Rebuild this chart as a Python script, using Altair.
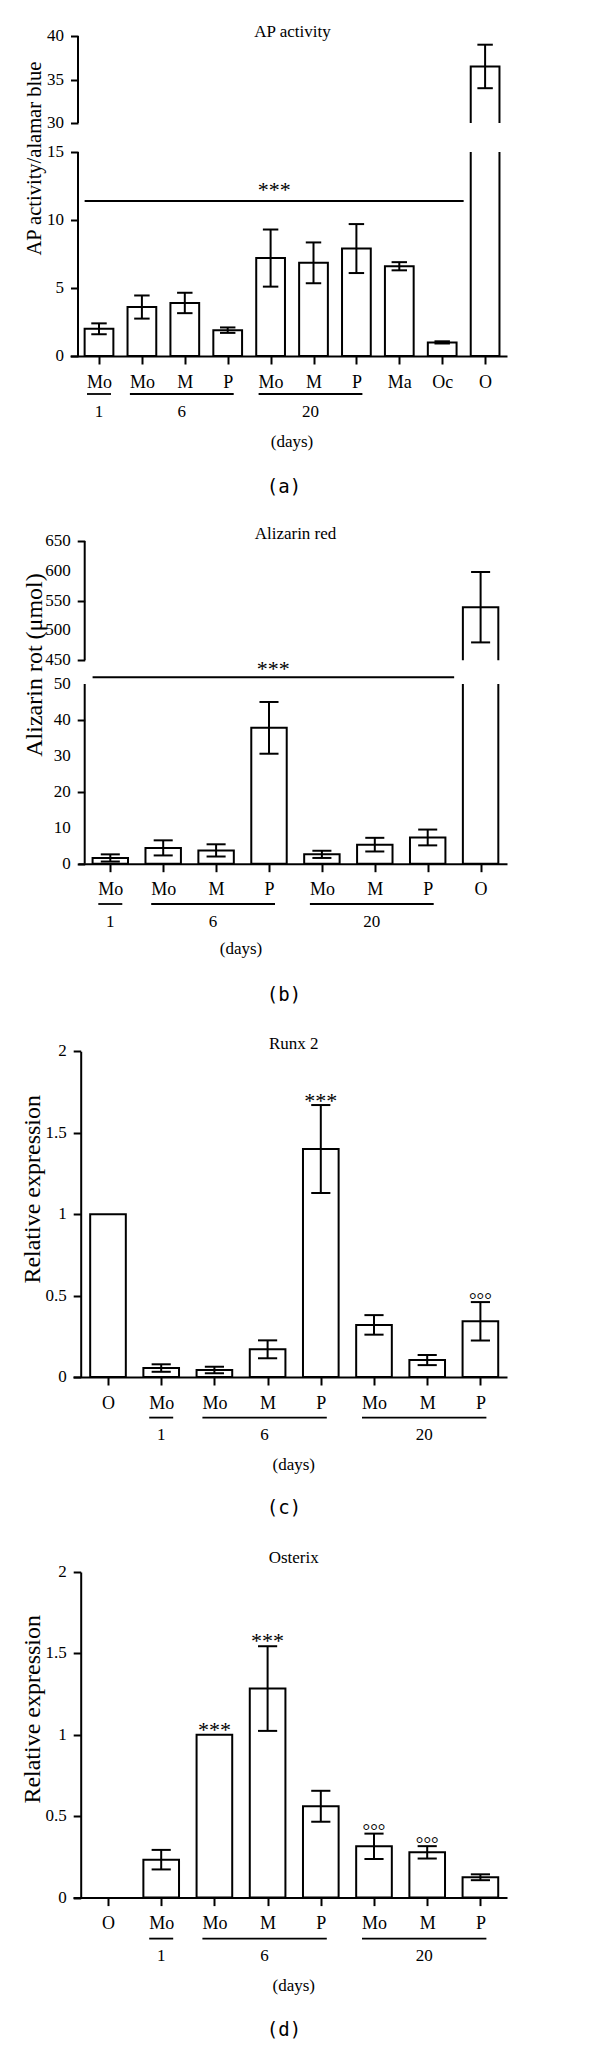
import json
import altair as alt
import pandas as pd

# ---------------- data ----------------
a_names = ["Mo", "Mo", "M", "P", "Mo", "M", "P", "Ma", "Oc", "O"]
a_means = [2.0, 3.6, 3.9, 1.9, 7.2, 6.85, 7.9, 6.6, 1.0, 36.5]
a_errs = [0.4, 0.85, 0.75, 0.2, 2.1, 1.5, 1.8, 0.3, 0.08, 2.5]
a_groups = [("1", 0, 0), ("6", 1, 3), ("20", 4, 6)]
a_yticks = [0, 5, 10, 15, 30, 35, 40]

b_names = ["Mo", "Mo", "M", "P", "Mo", "M", "P", "O"]
b_means = [1.6, 4.4, 3.7, 37.8, 2.6, 5.3, 7.3, 539]
b_errs = [1.0, 2.1, 1.7, 7.2, 1.0, 1.9, 2.2, 59]
b_groups = [("1", 0, 0), ("6", 1, 3), ("20", 4, 6)]
b_yticks = [0, 10, 20, 30, 40, 50, 450, 500, 550, 600, 650]

c_names = ["O", "Mo", "Mo", "M", "P", "Mo", "M", "P"]
c_means = [1.0, 0.055, 0.043, 0.17, 1.40, 0.32, 0.104, 0.342]
c_errs = [0, 0.023, 0.02, 0.055, 0.27, 0.06, 0.031, 0.118]
c_groups = [("1", 1, 1), ("6", 2, 4), ("20", 5, 7)]

d_names = ["O", "Mo", "Mo", "M", "P", "Mo", "M", "P"]
d_means = [0, 0.233, 1.0, 1.284, 0.561, 0.315, 0.278, 0.125]
d_errs = [0, 0.06, 0, 0.26, 0.095, 0.078, 0.038, 0.018]
d_groups = [("1", 1, 1), ("6", 2, 4), ("20", 5, 7)]
cd_yticks = [0, 0.5, 1, 1.5, 2]

SERIF = "Liberation Serif"
W = 437
HALF = {"Mo": 12, "M": 9, "P": 6, "O": 7}
TICK = 7.5
LPAD = 6.5


def fmt(v):
    return ("%g" % v)


def panel(names, means, errs, groups, title, ytitle, ysize, letter,
          ydomain, yrange, yticks, H, xline, c0, step, yax,
          title_xy, ytitle_xy, days_x, offs, breaks=None, sig=None,
          stars=(), star_dy=2.5, degs=()):
    n = len(names)
    xs = alt.Scale(domain=[(xline - c0) / step, (W - c0) / step],
                   range=[xline, W], nice=False, zero=False)
    ys = alt.Scale(domain=ydomain, range=yrange, nice=False, zero=False)

    df = pd.DataFrame({"pos": list(range(n)), "name": names,
                       "mean": means, "err": errs})
    df["lo"] = df["mean"] - df["err"]
    df["hi"] = df["mean"] + df["err"]
    df["l"] = df["pos"] - 0.335
    df["r"] = df["pos"] + 0.335
    df["cl"] = df["pos"] - 0.18
    df["cr"] = df["pos"] + 0.18
    df["zero"] = 0.0

    def X(f):
        return alt.X(f, scale=xs, title=None)

    def Y(f):
        return alt.Y(f, scale=ys, title=None)

    xaxis = alt.Axis(values=list(range(n)), labelExpr=json.dumps(names) + "[datum.value]",
                     tickSize=8, tickWidth=2, tickColor="black", domainWidth=2,
                     domainColor="black", labelPadding=23, labelBaseline="alphabetic",
                     labelFont=SERIF, labelFontSize=18, labelColor="black",
                     labelOverlap=False, labelFlush=False, grid=False, title=None)
    yaxis = alt.Axis(values=yticks, labels=False, tickSize=TICK, tickWidth=2,
                     tickColor="black", domain=breaks is None, domainWidth=2,
                     domainColor="black", grid=False, title=None, offset=-yax)

    layers = []
    bars = alt.Chart(df[df["mean"] > 0]).mark_rect(
        fill="white", stroke="black", strokeWidth=2).encode(
        x=alt.X("l:Q", scale=xs, axis=xaxis), x2="r:Q",
        y=alt.Y("mean:Q", scale=ys, axis=yaxis), y2="zero:Q")
    layers.append(bars)

    # y tick labels
    yl = pd.DataFrame({"v": yticks, "t": [fmt(v) for v in yticks]})
    layers.append(alt.Chart(yl).mark_text(font=SERIF, fontSize=17, align="right",
                                          baseline="middle", color="black").encode(
        x=alt.value(yax - TICK - LPAD), y=Y("v:Q"), text="t:N"))

    de = df[df["err"] > 0]
    layers.append(alt.Chart(de).mark_rule(color="black", strokeWidth=2).encode(
        x=X("pos:Q"), y=Y("lo:Q"), y2="hi:Q"))
    caps = pd.concat([de[["cl", "cr"]].assign(v=de["lo"]),
                      de[["cl", "cr"]].assign(v=de["hi"])])
    layers.append(alt.Chart(caps).mark_rule(color="black", strokeWidth=2).encode(
        x=X("cl:Q"), x2="cr:Q", y=Y("v:Q")))

    if breaks is not None:
        idx, b0, b1, segs = breaks
        mask = pd.DataFrame({"l": [idx - 0.42], "r": [idx + 0.42], "b0": [b0], "b1": [b1]})
        layers.append(alt.Chart(mask).mark_rect(fill="white", strokeWidth=0).encode(
            x=X("l:Q"), x2="r:Q", y=Y("b0:Q"), y2="b1:Q"))
        ax = pd.DataFrame({"y0": [s[0] for s in segs], "y1": [s[1] for s in segs]})
        layers.append(alt.Chart(ax).mark_rule(color="black", strokeWidth=2).encode(
            x=alt.value(yax), y=Y("y0:Q"), y2="y1:Q"))

    if sig is not None:
        sx0, sx1, sy, sdy = sig
        sdf = pd.DataFrame({"x0": [sx0], "x1": [sx1], "y": [sy],
                            "xm": [(sx0 + sx1) / 2], "t": ["***"]})
        layers.append(alt.Chart(sdf).mark_rule(color="black", strokeWidth=2).encode(
            x=X("x0:Q"), x2="x1:Q", y=Y("y:Q")))
        layers.append(alt.Chart(sdf).mark_text(font=SERIF, fontSize=22, baseline="alphabetic",
                                               dy=sdy, color="black").encode(
            x=X("xm:Q"), y=Y("y:Q"), text="t:N"))

    if stars:
        st = pd.DataFrame({"x": list(stars), "t": ["***"] * len(stars)})
        st["y"] = [df.loc[i, "hi"] for i in stars]
        layers.append(alt.Chart(st).mark_text(font=SERIF, fontSize=22, baseline="alphabetic",
                                              dy=star_dy, color="black").encode(
            x=X("x:Q"), y=Y("y:Q"), text="t:N"))
    if degs:
        dg = pd.DataFrame({"x": list(degs), "t": ["\u00b0\u00b0\u00b0"] * len(degs)})
        dg["y"] = [df.loc[i, "hi"] for i in degs]
        layers.append(alt.Chart(dg).mark_text(font=SERIF, fontSize=19, baseline="alphabetic",
                                              dy=3.5, color="black").encode(
            x=X("x:Q"), y=Y("y:Q"), text="t:N"))

    line_off, num_off, days_off, letter_off = offs
    g = pd.DataFrame({"label": [t[0] for t in groups]})
    g["x0"] = [t[1] - HALF[names[t[1]]] / step for t in groups]
    g["x1"] = [t[2] + HALF[names[t[2]]] / step for t in groups]
    g["xm"] = (g["x0"] + g["x1"]) / 2
    layers.append(alt.Chart(g).mark_rule(color="black", strokeWidth=1.8).encode(
        x=X("x0:Q"), x2="x1:Q", y=alt.value(H + line_off)))
    layers.append(alt.Chart(g).mark_text(font=SERIF, fontSize=17, baseline="alphabetic",
                                         color="black").encode(
        x=X("xm:Q"), y=alt.value(H + num_off), text="label:N"))

    txt = pd.DataFrame({"t": [title]})
    layers.append(alt.Chart(txt).mark_text(font=SERIF, fontSize=17, baseline="alphabetic",
                                           color="black").encode(
        x=alt.value(title_xy[0]), y=alt.value(title_xy[1]), text="t:N"))
    yt = pd.DataFrame({"t": [ytitle]})
    layers.append(alt.Chart(yt).mark_text(font=SERIF, fontSize=ysize, baseline="middle",
                                          angle=270, color="black").encode(
        x=alt.value(ytitle_xy[0]), y=alt.value(ytitle_xy[1]), text="t:N"))
    dd = pd.DataFrame({"t": ["(days)"]})
    layers.append(alt.Chart(dd).mark_text(font=SERIF, fontSize=17, baseline="alphabetic",
                                          color="black").encode(
        x=alt.value(days_x), y=alt.value(H + days_off), text="t:N"))
    lt = pd.DataFrame({"t": [letter]})
    layers.append(alt.Chart(lt).mark_text(font="DejaVu Sans Mono", fontSize=19,
                                          baseline="alphabetic", color="black").encode(
        x=alt.value(214), y=alt.value(H + letter_off), text="t:N"))

    return alt.layer(*layers).properties(width=W, height=H)


pa = panel(a_names, a_means, a_errs, a_groups, "AP activity", "AP activity/alamar blue", 20.5, "(a)",
           [0, 15, 30, 40], [320, 116, 87, 0], a_yticks, 320,
           0, 29, 42.9, 8, (222.5, 1.3), (-35, 122.5), 222, (38, 61, 91, 137),
           breaks=(9, 15, 30, [(0, 15), (30, 40)]), sig=(-0.335, 8.5, 11.4, -3.7))

pb = panel(b_names, b_means, b_errs, b_groups, "Alizarin red", "Alizarin rot (\u03bcmol)", 24, "(b)",
           [0, 50, 450, 650], [322.7, 143, 119.3, 0], b_yticks, 322.7,
           8, 40.3, 52.9, 14.7, (225.5, -1.7), (-35, 124), 171, (40.3, 63, 90.3, 137),
           breaks=(7, 50, 450, [(0, 50), (450, 650)]), sig=(-0.335, 6.5, 163, -1.3))

pc = panel(c_names, c_means, c_errs, c_groups, "Runx 2", "Relative expression", 24, "(c)",
           [0, 2], [328, 2.3], cd_yticks, 328,
           3, 38, 53.2, 10.7, (223.7, -0.4), (-37, 140.3), 223.7, (40.6, 63.3, 92.6, 137),
           stars=(4,), star_dy=3, degs=(7,))

pd_ = panel(d_names, d_means, d_errs, d_groups, "Osterix", "Relative expression", 24, "(d)",
            [0, 2], [335.6, 10], cd_yticks, 335.6,
            3, 38, 53.2, 10.7, (223.7, 1.0), (-37, 147.3), 223.7, (41, 63.7, 93.4, 138),
            stars=(2, 3), star_dy=2, degs=(5, 6))

chart = alt.vconcat(pa, pb, pc, pd_, spacing=185, bounds="flush").properties(
    padding={"left": 13, "top": 15, "right": 10, "bottom": 5}
).configure_view(stroke=None)

chart.save("out.html", embed_options={"renderer": "svg", "actions": False})
